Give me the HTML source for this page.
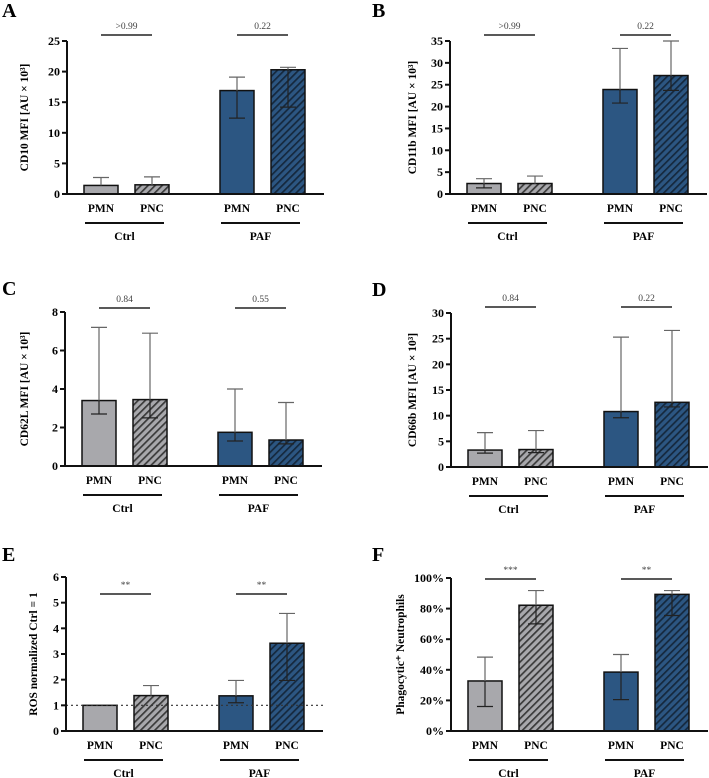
<!DOCTYPE html>
<html><head><meta charset="utf-8"><style>
html,body{margin:0;padding:0;background:#fff;}
svg{display:block;font-family:"Liberation Serif",serif;}
</style></head><body>
<svg id="fig" width="709" height="778" viewBox="0 0 709 778" xmlns="http://www.w3.org/2000/svg">
<defs>
<pattern id="hatchGray" patternUnits="userSpaceOnUse" width="5" height="5" patternTransform="rotate(45)">
<rect width="5" height="5" fill="#a8a8ac"/><rect width="1.7" height="5" fill="#3a3a3a"/></pattern>
<pattern id="hatchBlue" patternUnits="userSpaceOnUse" width="5" height="5" patternTransform="rotate(45)">
<rect width="5" height="5" fill="#2c5682"/><rect width="1.7" height="5" fill="#15283d"/></pattern>
</defs>
</svg>
<script>
const categories = ["PMN", "PNC", "PMN", "PNC"];
const groups = ["Ctrl", "PAF"];
const panelLetters = ["A", "B", "C", "D", "E", "F"];
const yTitles = ["CD10 MFI [AU × 10³]", "CD11b MFI [AU × 10³]", "CD62L MFI [AU × 10³]", "CD66b MFI [AU × 10³]", "ROS normalized Ctrl = 1", "Phagocytic⁺ Neutrophils"];
const pLabels = [[">0.99", "0.22"], [">0.99", "0.22"], ["0.84", "0.55"], ["0.84", "0.22"], ["**", "**"], ["***", "**"]];
const yMax = [25, 35, 8, 30, 6, 100];
const yTicks = [[0,5,10,15,20,25],[0,5,10,15,20,25,30,35],[0,2,4,6,8],[0,5,10,15,20,25,30],[0,1,2,3,4,5,6],[0,20,40,60,80,100]];
const meansA = [1.4, 1.5, 16.9, 20.3];
const lowA = [null, null, 12.4, 14.2];
const highA = [2.7, 2.8, 19.1, 20.7];
const meansB = [2.4, 2.4, 23.9, 27.1];
const lowB = [1.4, null, 20.8, 23.7];
const highB = [3.5, 4.1, 33.3, 35.0];
const meansC = [3.4, 3.45, 1.75, 1.35];
const lowC = [2.7, 2.5, 1.3, 1.15];
const highC = [7.2, 6.9, 4.0, 3.3];
const meansD = [3.3, 3.4, 10.8, 12.6];
const lowD = [2.7, 2.8, 9.6, 11.7];
const highD = [6.7, 7.1, 25.3, 26.6];
const meansE = [1.0, 1.38, 1.37, 3.42];
const lowE = [null, null, 1.1, 1.97];
const highE = [null, 1.77, 1.97, 4.58];
const meansF = [32.7, 82.2, 38.5, 89.3];
const lowF = [16, 70, 20.5, 75.5];
const highF = [48.3, 91.8, 50, 91.8];
const refLineE = 1;

const means = [meansA, meansB, meansC, meansD, meansE, meansF];
const lows = [lowA, lowB, lowC, lowD, lowE, lowF];
const highs = [highA, highB, highC, highD, highE, highF];

const layout = [
  {ax:67, top:41, zero:194, lx:2, ly:17, tx:28, sig:35},
  {ax:450, top:41, zero:194, lx:372, ly:17, tx:416, sig:35},
  {ax:65, top:312, zero:466, lx:2, ly:295, tx:28, sig:308},
  {ax:451, top:313, zero:467, lx:372, ly:296, tx:416, sig:307},
  {ax:66, top:577, zero:731, lx:2, ly:561, tx:37, sig:594},
  {ax:451, top:578, zero:731, lx:372, ly:561, tx:404, sig:579}
];
const barOff = [17, 68, 153, 204];
const barW = 34;
const NS = "http://www.w3.org/2000/svg";
const svg = document.getElementById("fig");
function mk(tag, attrs, parent){const e=document.createElementNS(NS,tag);for(const k in attrs)e.setAttribute(k,attrs[k]);(parent||svg).appendChild(e);return e;}

for (let p=0;p<6;p++){
  const L = layout[p];
  const g = mk("g",{});
  
  
  const y = v => L.zero - (v / yMax[p]) * (L.zero - L.top);
  const lt = mk("text",{x:L.lx,y:L.ly,"font-size":20,"font-weight":"bold"},g);
  lt.textContent = panelLetters[p];
  
  
  const yt = mk("text",{x:L.tx,y:(L.top+L.zero)/2,"font-size":11.5,"font-weight":"bold","text-anchor":"middle",transform:`rotate(-90 ${L.tx} ${(L.top+L.zero)/2})`},g);
  yt.textContent = yTitles[p];
  
  
  for (let i=0;i<4;i++){
    const x0 = L.ax + barOff[i];
    const fill = i<2 ? (i===0?"#a8a8ac":"url(#hatchGray)") : (i===2?"#2c5682":"url(#hatchBlue)");
    const b = mk("rect",{x:x0,y:y(means[p][i]),width:barW,height:L.zero-y(means[p][i]),fill:fill,stroke:"#111","stroke-width":1.5},g);
    
    
    const cx = x0 + barW/2;
    const hi = highs[p][i], lo = lows[p][i];
    if (hi!==null){
      const e = mk("path",{d:`M${cx} ${y(means[p][i])}V${y(hi)}M${cx-8} ${y(hi)}H${cx+8}`,stroke:"#666","stroke-width":1.2,fill:"none"},g);
      
      
    }
    if (lo!==null){
      const e = mk("path",{d:`M${cx} ${y(means[p][i])}V${y(lo)}M${cx-8} ${y(lo)}H${cx+8}`,stroke:"#222","stroke-width":1.2,fill:"none"},g);
      
      
    }
    const cl = mk("text",{x:cx,y:L.zero+18,"font-size":11.5,"font-weight":"bold","text-anchor":"middle"},g);
    cl.textContent = categories[i];
    
    
  }
  if (p===4){
    const r = mk("line",{x1:L.ax,x2:L.ax+257,y1:y(refLineE),y2:y(refLineE),stroke:"#333","stroke-width":1.2,"stroke-dasharray":"2,3"},g);
    
    
  }
  const ya = mk("path",{d:`M${L.ax} ${L.top}V${L.zero}`,stroke:"#111","stroke-width":2},g);
  
  
  const xa = mk("path",{d:`M${L.ax-1} ${L.zero}H${L.ax+257}`,stroke:"#111","stroke-width":2},g);
  
  
  yTicks[p].forEach(t=>{
    mk("path",{d:`M${L.ax-5} ${y(t)}H${L.ax}`,stroke:"#111","stroke-width":2},g);
    const tl = mk("text",{x:L.ax-7,y:y(t)+4,"font-size":12,"font-weight":"bold","text-anchor":"end"},g);
    tl.textContent = p===5 ? t+"%" : t;
    
    
  });
  for (let k=0;k<2;k++){
    const a = L.ax + barOff[2*k], bEnd = L.ax + barOff[2*k+1] + barW;
    const gl = mk("rect",{x:a+1,y:L.zero+28,width:bEnd-a-6,height:2,fill:"#111"},g);
    
    
    const gt = mk("text",{x:(a+bEnd)/2-2,y:L.zero+46,"font-size":11.5,"font-weight":"bold","text-anchor":"middle"},g);
    gt.textContent = groups[k];
    
    
    const c1 = a + barW/2, c2 = L.ax + barOff[2*k+1] + barW/2;
    const sl = mk("line",{x1:c1,x2:c2,y1:L.sig,y2:L.sig,stroke:"#222","stroke-width":1.5},g);
    
    
    const st = mk("text",{x:(c1+c2)/2,y:L.sig-6,"font-size":9.5,fill:"#444","text-anchor":"middle"},g);
    st.textContent = pLabels[p][k];
    
    
  }
}
</script>
</body></html>
